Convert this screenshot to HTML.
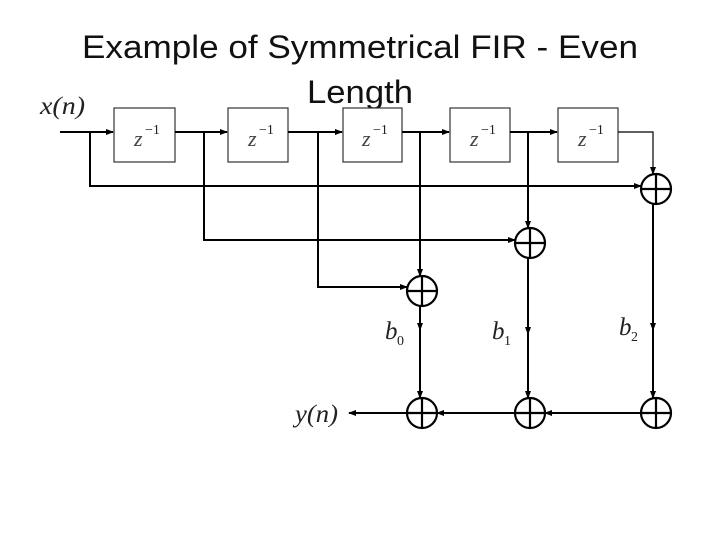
<!DOCTYPE html>
<html><head><meta charset="utf-8"><style>
html,body{margin:0;padding:0;background:#fff;}
svg{display:block;}
.t{font-family:"Liberation Sans",sans-serif;font-size:32px;fill:#111;}
.m{font-family:"Liberation Serif",serif;font-style:italic;font-size:25px;fill:#222;}
.z{font-family:"Liberation Serif",serif;font-style:italic;font-size:22px;fill:#444;}
.s{font-family:"Liberation Serif",serif;font-size:14px;fill:#222;}
</style></head><body>
<svg width="720" height="540" viewBox="0 0 720 540">
<defs><marker id="a" markerWidth="8" markerHeight="8" refX="7" refY="4" orient="auto" markerUnits="userSpaceOnUse"><path d="M0,1 L8,4 L0,7z" fill="#000"/></marker></defs>
<text class="t" x="82" y="58" textLength="556" lengthAdjust="spacingAndGlyphs">Example of Symmetrical FIR - Even</text>
<text class="t" x="307" y="103" textLength="106" lengthAdjust="spacingAndGlyphs">Length</text>
<g fill="#fff" stroke="#333" stroke-width="1.2">
<rect x="114" y="108" width="61" height="54"/><rect x="228" y="108" width="60" height="54"/>
<rect x="343" y="108" width="59" height="54"/><rect x="450" y="108" width="60" height="54"/>
<rect x="558" y="108" width="60" height="54"/></g>
<g class="z"><text x="134" y="146">z</text><text x="248" y="146">z</text><text x="362" y="146">z</text><text x="470" y="146">z</text><text x="578" y="146">z</text></g>
<g class="s"><text x="145" y="134">−1</text><text x="259" y="134">−1</text><text x="373" y="134">−1</text><text x="481" y="134">−1</text><text x="589" y="134">−1</text></g>
<text class="m" x="40" y="114" textLength="45" lengthAdjust="spacingAndGlyphs">x(n)</text>
<text class="m" x="295" y="422" textLength="43" lengthAdjust="spacingAndGlyphs">y(n)</text>
<text class="m" x="385" y="339">b</text><text class="s" x="397" y="345">0</text>
<text class="m" x="492" y="339">b</text><text class="s" x="504" y="345">1</text>
<text class="m" x="619" y="335">b</text><text class="s" x="631" y="341">2</text>
<g stroke="#000" stroke-width="2" fill="none">
<line x1="60" y1="132" x2="113" y2="132" marker-end="url(#a)"/>
<line x1="175" y1="132" x2="227" y2="132" marker-end="url(#a)"/>
<line x1="288" y1="132" x2="342" y2="132" marker-end="url(#a)"/>
<line x1="402" y1="132" x2="449" y2="132" marker-end="url(#a)"/>
<line x1="510" y1="132" x2="557" y2="132" marker-end="url(#a)"/>
<polyline points="90,132 90,186 641,186" marker-end="url(#a)"/>
<polyline points="204,132 204,240 515,240" marker-end="url(#a)"/>
<polyline points="318,132 318,287 407,287" marker-end="url(#a)"/>
<polyline points="618,132 653,132 653,174" stroke-width="1.2" marker-end="url(#a)"/>
<line x1="420" y1="132" x2="420" y2="276" marker-end="url(#a)"/>
<line x1="528" y1="132" x2="528" y2="228" marker-end="url(#a)"/>
<line x1="420" y1="306" x2="420" y2="330" marker-end="url(#a)"/>
<line x1="420" y1="326" x2="420" y2="398" marker-end="url(#a)"/>
<line x1="528" y1="258" x2="528" y2="334" marker-end="url(#a)"/>
<line x1="528" y1="330" x2="528" y2="398" marker-end="url(#a)"/>
<line x1="653" y1="204" x2="653" y2="330" marker-end="url(#a)"/>
<line x1="653" y1="326" x2="653" y2="398" marker-end="url(#a)"/>
<line x1="641" y1="413" x2="545" y2="413" marker-end="url(#a)"/>
<line x1="515" y1="413" x2="437" y2="413" marker-end="url(#a)"/>
<line x1="407" y1="413" x2="349" y2="413" marker-end="url(#a)"/>
</g>
<g stroke="#000" stroke-width="2.2" fill="#fff">
<circle cx="656" cy="189" r="15"/><circle cx="530" cy="243" r="15"/><circle cx="422" cy="291" r="15"/>
<circle cx="422" cy="413" r="15"/><circle cx="530" cy="413" r="15"/><circle cx="656" cy="413" r="15"/></g>
<g stroke="#000" stroke-width="2.2">
<path d="M641,189h30M656,174v30"/><path d="M515,243h30M530,228v30"/><path d="M407,291h30M422,276v30"/>
<path d="M407,413h30M422,398v30"/><path d="M515,413h30M530,398v30"/><path d="M641,413h30M656,398v30"/></g>
</svg>
</body></html>
